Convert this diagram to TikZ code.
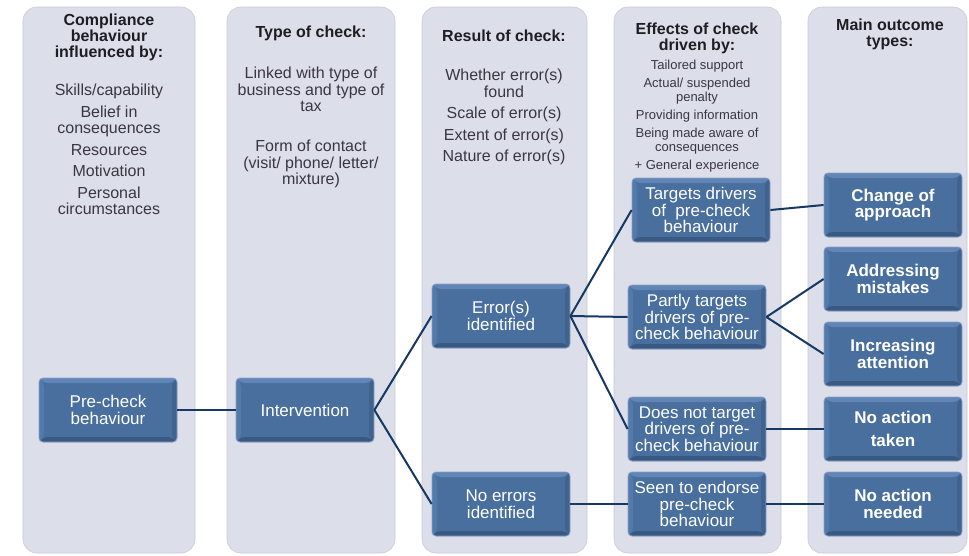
\documentclass[tikz,border=0pt]{standalone}
\usepackage{fontspec}
\setmainfont{Liberation Sans}
\usepackage{xcolor}
\usetikzlibrary{positioning}

\definecolor{lanefill}{RGB}{220,222,234}
\definecolor{laneedge}{RGB}{198,201,218}
\definecolor{boxfill}{RGB}{73,111,158}
\definecolor{boxedge}{RGB}{140,160,195}
\definecolor{bevtop}{RGB}{96,133,182}
\definecolor{bevleft}{RGB}{84,122,171}
\definecolor{bevbottom}{RGB}{57,89,131}
\definecolor{bevright}{RGB}{64,98,142}
\definecolor{linkblue}{RGB}{22,56,98}
\definecolor{hdrtext}{RGB}{30,30,34}
\definecolor{bodytext}{RGB}{58,54,66}

% raised edge inside the flow boxes
\newcommand{\boxbevel}{%
  \coordinate (bnw) at (path picture bounding box.north west);
  \coordinate (bne) at (path picture bounding box.north east);
  \coordinate (bsw) at (path picture bounding box.south west);
  \coordinate (bse) at (path picture bounding box.south east);
  \fill[bevtop] (bnw) -- (bne) -- ([shift={(-5pt,-5pt)}]bne)
        -- ([shift={(5pt,-5pt)}]bnw) -- cycle;
  \fill[bevleft] (bnw) -- ([shift={(5pt,-5pt)}]bnw)
        -- ([shift={(5pt,5pt)}]bsw) -- (bsw) -- cycle;
  \fill[bevbottom] (bsw) -- ([shift={(5pt,5pt)}]bsw)
        -- ([shift={(-5pt,5pt)}]bse) -- (bse) -- cycle;
  \fill[bevright] (bne) -- (bse) -- ([shift={(-5pt,5pt)}]bse)
        -- ([shift={(-5pt,-5pt)}]bne) -- cycle;
}

\tikzset{
  lane/.style={rectangle, rounded corners=14pt, draw=laneedge,
               line width=0.6pt, fill=lanefill},
  hdr/.style={anchor=north, inner sep=0pt, align=center, text=hdrtext,
              font=\fontsize{16}{16}\selectfont\bfseries},
  item/.style={anchor=north, inner sep=0pt, align=center, text=bodytext,
               font=\fontsize{16}{16.5}\selectfont},
  sitem/.style={item, font=\fontsize{13}{14}\selectfont},
  blk/.style={rectangle, rounded corners=4pt, draw=boxedge, line width=0.8pt,
              fill=boxfill, path picture={\boxbevel},
              minimum width=138pt, minimum height=64pt,
              inner sep=2pt, align=center, text=white,
              font=\fontsize{17}{16.5}\selectfont},
  oblk/.style={blk, font=\fontsize{17}{16.5}\selectfont\bfseries},
  link/.style={draw=linkblue, line width=2pt},
}

\begin{document}
\begin{tikzpicture}[x=1pt,y=-1pt]
  \useasboundingbox (0,0) rectangle (969,555);
  % columns
  \foreach \xa/\xb in {23/195, 227/395, 422/587, 614/781, 808/967}
    \draw[lane] (\xa,7) rectangle (\xb,553);
  % column headings
  \node[hdr] (h1) at (109,14) {Compliance\\behaviour\\influenced by:};
  \node[hdr] (h2) at (311,26) {Type of check:};
  \node[hdr] (h3) at (504,30) {Result of check:};
  \node[hdr] (h4) at (697,23) {Effects of check\\driven by:};
  \node[hdr] (h5) at (890,19) {Main outcome\\types:};
  % lists under the headings
  \node[item] (infl) at (109,84) {Skills/capability\\[5pt]Belief in\\consequences\\[5pt]
        Resources\\[5pt]Motivation\\[5pt]Personal\\circumstances};
  \node[item] (link1) at (311,67) {Linked with type of\\business and type of\\tax};
  \node[item] (link2) at (311,140) {Form of contact\\(visit/ phone/ letter/\\mixture)};
  \node[item] (res) at (504,69) {Whether error(s)\\found\\[5pt]Scale of error(s)\\[5pt]
        Extent of error(s)\\[5pt]Nature of error(s)};
  \node[sitem] (drv) at (697,60) {Tailored support\\[4pt]Actual/ suspended\\penalty\\[4pt]
        Providing information\\[4pt]Being made aware of\\consequences\\[4pt]+ General experience};
  % flow boxes
  \node[blk] (pre) at (108,410) {Pre-check\\behaviour};
  \node[blk] (intv) at (305,410) {Intervention};
  \node[blk] (err) at (501,316) {Error(s)\\identified};
  \node[blk] (noerr) at (501,504) {No errors\\identified};
  \node[blk] (tgt) at (701,210) {Targets drivers\\of~ pre-check\\behaviour};
  \node[blk] (part) at (697,317) {Partly targets\\drivers of pre-\\check behaviour};
  \node[blk] (dnt) at (697,429) {Does not target\\drivers of pre-\\check behaviour};
  \node[blk] (endorse) at (697,504) {Seen to endorse\\pre-check\\behaviour};
  % outcomes
  \node[oblk] (chg) at (893,205) {Change of\\approach};
  \node[oblk] (addr) at (893,279) {Addressing\\mistakes};
  \node[oblk] (incr) at (893,354) {Increasing\\attention};
  \node[oblk] (nat) at (893,429) {No action\\[6pt]taken};
  \node[oblk] (nan) at (893,504) {No action\\needed};
  % connectors
  \foreach \a/\b in {pre/intv, intv/err, intv/noerr, err/tgt, err/part, err/dnt,
                     noerr/endorse, tgt/chg, part/addr, part/incr, dnt/nat, endorse/nan}
    \draw[link] (\a.east) -- (\b.west);
\end{tikzpicture}
\end{document}
